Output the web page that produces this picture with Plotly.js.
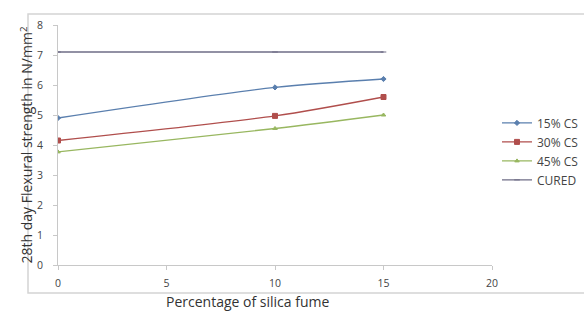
<!DOCTYPE html>
<html>
<head>
<meta charset="utf-8">
<script src="https://cdn.plot.ly/plotly-3.0.1.min.js"></script>
<style>html,body{margin:0;padding:0;background:#fff;}#chart{width:584px;height:311px;}</style>
</head>
<body>
<div id="chart"></div>
<script>
const silicaFume = [0, 10, 15];
const seriesNames = ["15% CS", "30% CS", "45% CS", "CURED"];
const cs15 = [4.9, 5.92, 6.2];
const cs30 = [4.15, 4.97, 5.6];
const cs45 = [3.77, 4.55, 5.0];
const cured = [7.1, 7.1, 7.1];
const xTicks = [0, 5, 10, 15, 20];
const yTicks = [0, 1, 2, 3, 4, 5, 6, 7, 8];

const colors = ["#5a7fae", "#b04e4c", "#98b760", "#6e6c86"];
const symbols = ["diamond", "square", "triangle-up", "line-ew"];
const seriesValues = [cs15, cs30, cs45, cured];

const traces = seriesValues.map((v, i) => ({
  x: silicaFume, y: v, name: seriesNames[i], type: "scatter", mode: "lines+markers",
  line: {color: colors[i], width: 1.3, shape: "spline", smoothing: 0.8},
  marker: {color: colors[i], size: i === 1 ? 5 : 4, symbol: symbols[i],
           line: {color: colors[i], width: 1}}
}));

const fam = "Open Sans, Liberation Sans, sans-serif";
const axisFont = {family: fam, size: 10.5, color: "#444"};
const layout = {
  width: 584, height: 311,
  margin: {l: 58, r: 92, t: 25, b: 46, autoexpand: false},
  paper_bgcolor: "#fff", plot_bgcolor: "#fff",
  showlegend: true,
  legend: {x: (497 - 58) / 434, xanchor: "left", y: 0.6525, yanchor: "top",
           font: {family: fam, size: 12, color: "#444"},
           bgcolor: "rgba(0,0,0,0)", tracegroupgap: 0},
  xaxis: {range: [0, 20], tickvals: xTicks, showgrid: false, zeroline: false,
          showline: true, linecolor: "#c8c8c8", linewidth: 1,
          ticks: "outside", ticklen: 4, tickcolor: "#c8c8c8",
          tickfont: axisFont, ticklabelstandoff: 4, fixedrange: true},
  yaxis: {range: [0, 8], tickvals: yTicks, showgrid: false, zeroline: false,
          showline: true, linecolor: "#c8c8c8", linewidth: 1,
          ticks: "outside", ticklen: 4, tickcolor: "#c8c8c8",
          tickfont: axisFont, ticklabelstandoff: 8,
          title: {text: "28th day Flexural strength in N/mm<sup>2</sup>",
                  font: {family: fam, size: 14, color: "#333"},
                  standoff: 0}},
  annotations: [{
    text: "Percentage of silica fume", xref: "paper", yref: "paper",
    x: (247 - 58) / 434, y: (265 - 301) / 240, xanchor: "center", yanchor: "middle",
    showarrow: false,
    font: {family: fam, size: 14, color: "#333"}
  }],
  shapes: [{
    type: "rect", xref: "paper", yref: "paper",
    x0: (28 - 58) / 434, x1: (600 - 58) / 434,
    y0: (265 - 293) / 240, y1: (265 - 14) / 240,
    line: {color: "#d4d4d4", width: 1.5}, fillcolor: "rgba(0,0,0,0)", layer: "below"
  }]
};
Plotly.newPlot("chart", traces, layout, {displayModeBar: false, staticPlot: true});
</script>
</body>
</html>
